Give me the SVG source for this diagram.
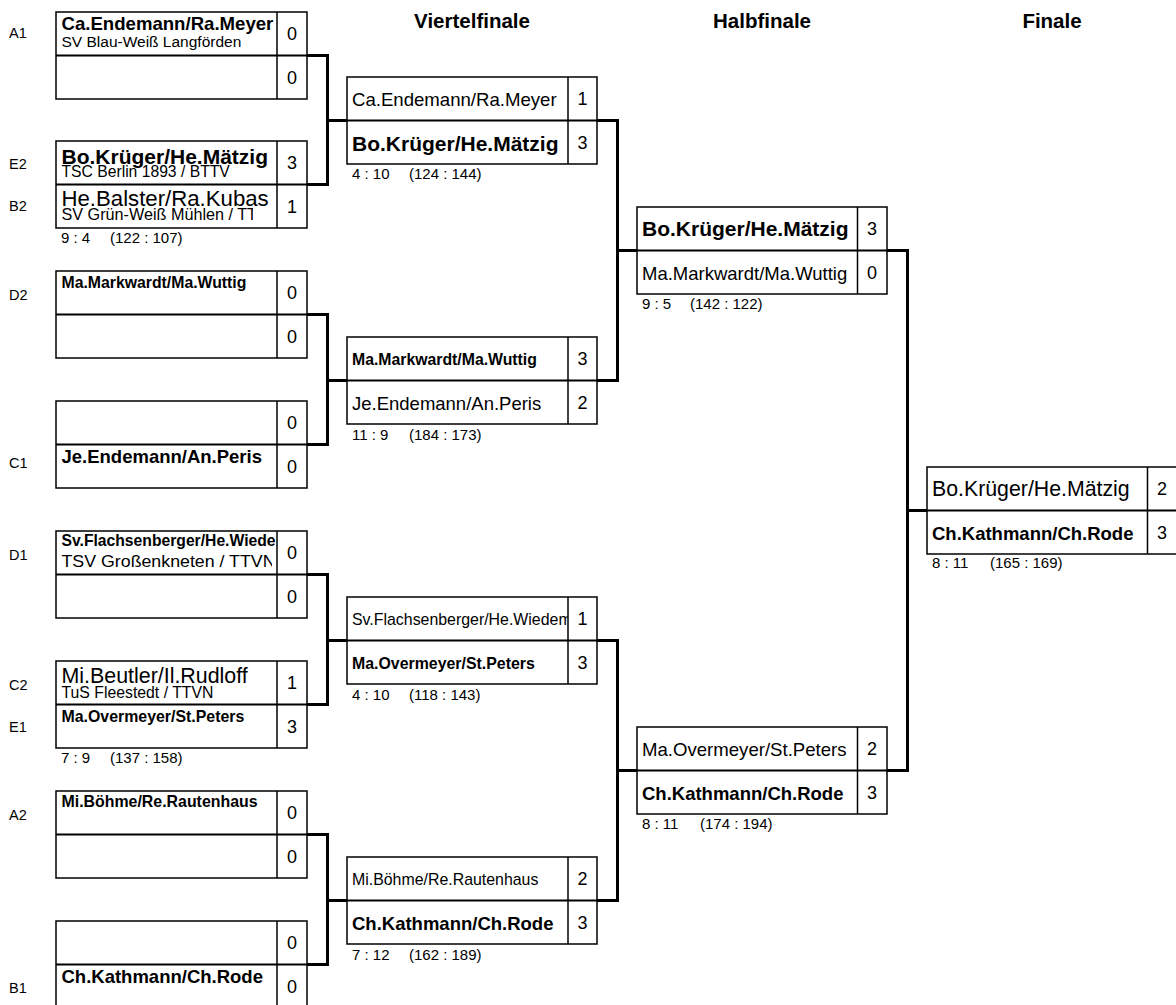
<svg xmlns="http://www.w3.org/2000/svg" width="1176" height="1005" viewBox="0 0 1176 1005">
<style>
text{font-family:"Liberation Sans",Arial,sans-serif;fill:#000}
.bx{fill:#fff;stroke:#000;stroke-width:1.5}
.ln{stroke:#000;stroke-width:1.5;fill:none}
.mid{stroke:#000;stroke-width:2;fill:none}
.cn{stroke:#000;stroke-width:3;fill:none;stroke-linejoin:miter;stroke-linecap:butt}
.b{font-weight:bold}
.sc{font-size:18px;text-anchor:middle}
.rs{font-size:15px}
.sd{font-size:14.5px}
.tt{font-size:20.5px;font-weight:bold;text-anchor:middle}
</style>
<defs>
<clipPath id="c1"><rect x="56" y="531" width="221" height="44"/></clipPath>
<clipPath id="c2"><rect x="56" y="185" width="197" height="43"/></clipPath>
<clipPath id="c3"><rect x="56" y="531" width="216" height="44"/></clipPath>
<clipPath id="c4"><rect x="347" y="597" width="221" height="44"/></clipPath>
</defs>
<rect width="1176" height="1005" fill="#fff"/>
<g id="titles">
<text class="tt" x="472" y="28">Viertelfinale</text>
<text class="tt" x="762" y="28">Halbfinale</text>
<text class="tt" x="1052" y="28">Finale</text>
</g>
<g id="seeds">
<text class="sd" x="9" y="38">A1</text>
<text class="sd" x="9" y="168.5">E2</text>
<text class="sd" x="9" y="210.5">B2</text>
<text class="sd" x="9" y="300">D2</text>
<text class="sd" x="9" y="468">C1</text>
<text class="sd" x="9" y="560">D1</text>
<text class="sd" x="9" y="690">C2</text>
<text class="sd" x="9" y="731.5">E1</text>
<text class="sd" x="9" y="820">A2</text>
<text class="sd" x="9" y="993">B1</text>
</g>
<g id="connectors">
<path class="cn" d="M307 55.5H327.5V184.5H307M327.5 120.5H347"/>
<path class="cn" d="M307 314.5H327.5V444.5H307M327.5 380.5H347"/>
<path class="cn" d="M307 574.5H327.5V704.5H307M327.5 640.5H347"/>
<path class="cn" d="M307 834.5H327.5V964.5H307M327.5 900.5H347"/>
<path class="cn" d="M597 120.5H617.5V380.5H597M617.5 250.5H637"/>
<path class="cn" d="M597 640.5H617.5V900.5H597M617.5 770.5H637"/>
<path class="cn" d="M887 250.5H907.5V770.5H887M907.5 510.5H927"/>
</g>
<g id="r1-1">
<rect class="bx" x="56" y="12" width="251" height="87"/>
<path class="ln" d="M277 12V99"/><path class="mid" d="M56 55.5H307"/>
<text class="b" x="61.5" y="29.5" font-size="18.6">Ca.Endemann/Ra.Meyer</text>
<text x="61.5" y="46.5" font-size="15.5">SV Blau-Weiß Langförden</text>
<text class="sc" x="292" y="40.2">0</text>
<text class="sc" x="292" y="83.7">0</text>
</g>
<g id="r1-2">
<rect class="bx" x="56" y="141" width="251" height="87"/>
<path class="ln" d="M277 141V228"/><path class="mid" d="M56 184.5H307"/>
<text class="b" x="61.5" y="163.5" font-size="21">Bo.Krüger/He.Mätzig</text>
<text x="61.5" y="177" font-size="15.7">TSC Berlin 1893 / BTTV</text>
<text class="sc" x="292" y="169.2">3</text>
<text x="61.5" y="206" font-size="22.2">He.Balster/Ra.Kubas</text>
<text x="61.5" y="219.5" font-size="16.2" clip-path="url(#c2)">SV Grün-Weiß Mühlen / TT</text>
<text class="sc" x="292" y="212.7">1</text>
<text class="rs" x="61" y="243">9 : 4<tspan x="110">(122 : 107)</tspan></text>
</g>
<g id="r1-3">
<rect class="bx" x="56" y="271" width="251" height="87"/>
<path class="ln" d="M277 271V358"/><path class="mid" d="M56 314.5H307"/>
<text class="b" x="61.5" y="288" font-size="15.8">Ma.Markwardt/Ma.Wuttig</text>
<text class="sc" x="292" y="299.2">0</text>
<text class="sc" x="292" y="342.7">0</text>
</g>
<g id="r1-4">
<rect class="bx" x="56" y="401" width="251" height="87"/>
<path class="ln" d="M277 401V488"/><path class="mid" d="M56 444.5H307"/>
<text class="sc" x="292" y="429.2">0</text>
<text class="b" x="61.5" y="463" font-size="18.5">Je.Endemann/An.Peris</text>
<text class="sc" x="292" y="472.7">0</text>
</g>
<g id="r1-5">
<rect class="bx" x="56" y="531" width="251" height="87"/>
<path class="ln" d="M277 531V618"/><path class="mid" d="M56 574.5H307"/>
<text class="b" x="61.5" y="546" font-size="15.7" clip-path="url(#c1)">Sv.Flachsenberger/He.Wiede</text>
<text x="61.5" y="566.5" font-size="16.5" textLength="214" lengthAdjust="spacingAndGlyphs" clip-path="url(#c3)">TSV Großenkneten / TTVN</text>
<text class="sc" x="292" y="559.2">0</text>
<text class="sc" x="292" y="602.7">0</text>
</g>
<g id="r1-6">
<rect class="bx" x="56" y="661" width="251" height="87"/>
<path class="ln" d="M277 661V748"/><path class="mid" d="M56 704.5H307"/>
<text x="61.5" y="683" font-size="21.4">Mi.Beutler/Il.Rudloff</text>
<text x="61.5" y="697.5" font-size="15.8">TuS Fleestedt / TTVN</text>
<text class="sc" x="292" y="689.2">1</text>
<text class="b" x="61.5" y="721.5" font-size="15.9">Ma.Overmeyer/St.Peters</text>
<text class="sc" x="292" y="732.7">3</text>
<text class="rs" x="61" y="763">7 : 9<tspan x="110">(137 : 158)</tspan></text>
</g>
<g id="r1-7">
<rect class="bx" x="56" y="791" width="251" height="87"/>
<path class="ln" d="M277 791V878"/><path class="mid" d="M56 834.5H307"/>
<text class="b" x="61.5" y="806.5" font-size="15.9">Mi.Böhme/Re.Rautenhaus</text>
<text class="sc" x="292" y="819.2">0</text>
<text class="sc" x="292" y="862.7">0</text>
</g>
<g id="r1-8">
<rect class="bx" x="56" y="921" width="251" height="87"/>
<path class="ln" d="M277 921V1008"/><path class="mid" d="M56 964.5H307"/>
<text class="sc" x="292" y="949.2">0</text>
<text class="b" x="61.5" y="983" font-size="18.5">Ch.Kathmann/Ch.Rode</text>
<text class="sc" x="292" y="992.7">0</text>
</g>
<g id="qf-1">
<rect class="bx" x="347" y="77" width="250" height="87"/>
<path class="ln" d="M568 77V164"/><path class="mid" d="M347 120.5H597"/>
<text x="352" y="105.5" font-size="18.6">Ca.Endemann/Ra.Meyer</text>
<text class="sc" x="582.5" y="105.2">1</text>
<text class="b" x="352" y="151" font-size="21">Bo.Krüger/He.Mätzig</text>
<text class="sc" x="582.5" y="148.7">3</text>
<text class="rs" x="352" y="179">4 : 10<tspan x="409">(124 : 144)</tspan></text>
</g>
<g id="qf-2">
<rect class="bx" x="347" y="337" width="250" height="87"/>
<path class="ln" d="M568 337V424"/><path class="mid" d="M347 380.5H597"/>
<text class="b" x="352" y="364.5" font-size="15.8">Ma.Markwardt/Ma.Wuttig</text>
<text class="sc" x="582.5" y="365.2">3</text>
<text x="352" y="409.5" font-size="18.5">Je.Endemann/An.Peris</text>
<text class="sc" x="582.5" y="408.7">2</text>
<text class="rs" x="352" y="440">11 : 9<tspan x="409">(184 : 173)</tspan></text>
</g>
<g id="qf-3">
<rect class="bx" x="347" y="597" width="250" height="87"/>
<path class="ln" d="M568 597V684"/><path class="mid" d="M347 640.5H597"/>
<text x="352" y="624.5" font-size="15.9" clip-path="url(#c4)">Sv.Flachsenberger/He.Wiedem</text>
<text class="sc" x="582.5" y="625.2">1</text>
<text class="b" x="352" y="668.5" font-size="15.9">Ma.Overmeyer/St.Peters</text>
<text class="sc" x="582.5" y="668.7">3</text>
<text class="rs" x="352" y="700">4 : 10<tspan x="409">(118 : 143)</tspan></text>
</g>
<g id="qf-4">
<rect class="bx" x="347" y="857" width="250" height="87"/>
<path class="ln" d="M568 857V944"/><path class="mid" d="M347 900.5H597"/>
<text x="352" y="884.5" font-size="15.9">Mi.Böhme/Re.Rautenhaus</text>
<text class="sc" x="582.5" y="885.2">2</text>
<text class="b" x="352" y="929.5" font-size="18.5">Ch.Kathmann/Ch.Rode</text>
<text class="sc" x="582.5" y="928.7">3</text>
<text class="rs" x="352" y="960">7 : 12<tspan x="409">(162 : 189)</tspan></text>
</g>
<g id="sf-1">
<rect class="bx" x="637" y="207" width="250" height="87"/>
<path class="ln" d="M857.5 207V294"/><path class="mid" d="M637 250.5H887"/>
<text class="b" x="642" y="235.5" font-size="21">Bo.Krüger/He.Mätzig</text>
<text class="sc" x="872" y="235.2">3</text>
<text x="642" y="279.5" font-size="18.5">Ma.Markwardt/Ma.Wuttig</text>
<text class="sc" x="872" y="278.7">0</text>
<text class="rs" x="642" y="309">9 : 5<tspan x="690">(142 : 122)</tspan></text>
</g>
<g id="sf-2">
<rect class="bx" x="637" y="727" width="250" height="87"/>
<path class="ln" d="M857.5 727V814"/><path class="mid" d="M637 770.5H887"/>
<text x="642" y="755.5" font-size="18.6">Ma.Overmeyer/St.Peters</text>
<text class="sc" x="872" y="755.2">2</text>
<text class="b" x="642" y="799.5" font-size="18.5">Ch.Kathmann/Ch.Rode</text>
<text class="sc" x="872" y="798.7">3</text>
<text class="rs" x="642" y="829">8 : 11<tspan x="700">(174 : 194)</tspan></text>
</g>
<g id="final">
<rect class="bx" x="927" y="467" width="250" height="87"/>
<path class="ln" d="M1147.5 467V554"/><path class="mid" d="M927 510.5H1177"/>
<text x="932" y="495.5" font-size="21.3">Bo.Krüger/He.Mätzig</text>
<text class="sc" x="1162" y="495.2">2</text>
<text class="b" x="932" y="539.5" font-size="18.5">Ch.Kathmann/Ch.Rode</text>
<text class="sc" x="1162" y="538.7">3</text>
<text class="rs" x="932" y="568">8 : 11<tspan x="990">(165 : 169)</tspan></text>
</g>
</svg>
